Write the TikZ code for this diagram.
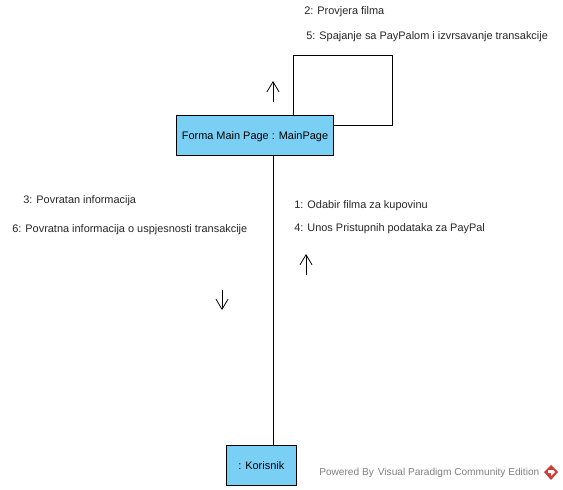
\documentclass[tikz,border=0pt]{standalone}
\usepackage{fontspec}
\setmainfont{Liberation Sans}
\usetikzlibrary{arrows.meta}
\definecolor{boxblue}{RGB}{122,207,245}
\definecolor{logored}{RGB}{205,60,50}
\tikzset{
	objbox/.style={draw=black,semithick,fill=boxblue,minimum height=30pt,inner sep=0pt,text height=7pt,text depth=1pt,font=\fontsize{8.2pt}{10pt}\selectfont},
	msg/.style={inner sep=0pt,anchor=west,text=black!85,font=\fontsize{8.2pt}{10pt}\selectfont},
	link/.style={semithick},
	dirarrow/.style={semithick,-{Straight Barb[length=7.5pt,width=9pt]}},
}
\begin{document}
\begin{tikzpicture}[x=0.75pt,y=-0.75pt]
	\useasboundingbox (0,0) rectangle (563,489);
	% Objekte
	\node [objbox,minimum width=117.75pt] (mainpage) at (255,135) {Forma Main Page : MainPage};
	\node [objbox,minimum width=52.5pt] (korisnik) at (261.25,465) {: Korisnik};
	% Verbindung
	\draw [link] (mainpage.south -| 273.5,0) -- (korisnik.north -| 273.5,0);
	% Schleife
	\coordinate (loopa) at (293,55);
	\coordinate (loopb) at (392,55);
	\coordinate (loopc) at (392,125);
	\draw [link] (mainpage.north -| loopa) -- (loopa) -- (loopb) -- (loopc) -- (mainpage.east |- loopc);
	% Pfeile
	\coordinate (upa) at (273,102);
	\coordinate (upb) at (273,81);
	\coordinate (upc) at (306,275);
	\coordinate (upd) at (306,254);
	\coordinate (downa) at (222,290);
	\coordinate (downb) at (222,310);
	\draw [dirarrow] (upa) -- (upb);
	\draw [dirarrow] (upc) -- (upd);
	\draw [dirarrow] (downa) -- (downb);
	% Nachrichten
	\node [msg] (msgb) at (304,12) {2: Provjera filma};
	\node [msg] (msge) at (306,37) {5: Spajanje sa PayPalom i izvrsavanje transakcije};
	\node [msg] (msgc) at (23,201) {3: Povratan informacija};
	\node [msg] (msgf) at (12,230) {6: Povratna informacija o uspjesnosti transakcije};
	\node [msg] (msga) at (294,206) {1: Odabir filma za kupovinu};
	\node [msg] (msgd) at (294,229) {4: Unos Pristupnih podataka za PayPal};
	% Wasserzeichen
	\node [msg,text=black!50,font=\fontsize{7.6pt}{10pt}\selectfont] (powered) at (319,473) {Powered By\hspace{3pt}Visual Paradigm Community Edition};
	\fill [logored] (551,465) -- (558,472) -- (551,480) -- (544,472) -- cycle;
	\fill [white] (548,470) -- (553,470) -- (555,472) -- (551,476) -- (551,473) -- (548,473) -- cycle;
\end{tikzpicture}
\end{document}
